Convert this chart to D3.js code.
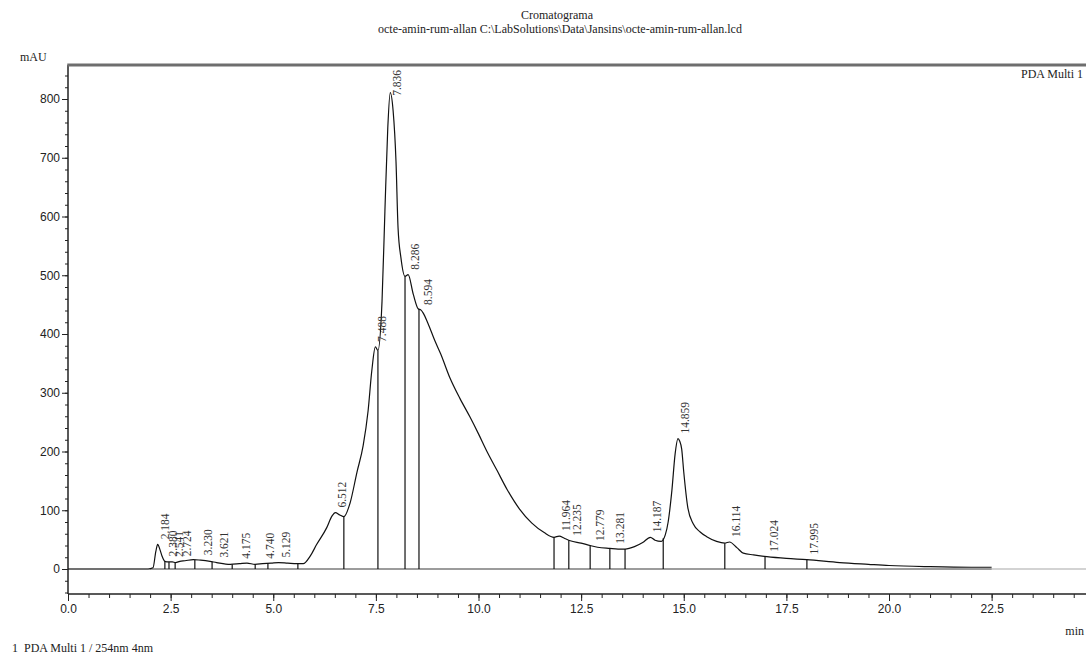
<!DOCTYPE html>
<html>
<head>
<meta charset="utf-8">
<script src="https://cdn.jsdelivr.net/npm/d3@7"></script>
<style>
  body { margin: 0; background: #fff; }
  svg { display: block; font-family: "Liberation Serif", "Times New Roman", serif; }
  .axis text { font-size: 12px; fill: #222; }
  .axis path, .axis line { stroke: #222; }
  .peakLabel { font-size: 11.5px; fill: #333; }
</style>
</head>
<body>
<div id="chart"></div>
<script>
// retention time (min) and absorbance (mAU)
var times = [0, 1.5, 1.95, 2.07, 2.14, 2.184, 2.24, 2.29, 2.36, 2.45, 2.541, 2.62, 2.724, 2.85,
  3.05, 3.23, 3.46, 3.621, 3.95, 4.175, 4.36, 4.56, 4.74, 4.95, 5.129, 5.35, 5.57, 5.73, 5.9,
  6.06, 6.3, 6.43, 6.512, 6.62, 6.72, 6.87, 7.04, 7.19, 7.31, 7.4, 7.488, 7.55, 7.65, 7.72,
  7.79, 7.85, 7.92, 7.99, 8.04, 8.11, 8.21, 8.286, 8.41, 8.53, 8.594, 8.65, 8.77, 8.94, 9.08,
  9.3, 9.55, 9.79, 10.0, 10.2, 10.45, 10.7, 11.0, 11.3, 11.6, 11.84, 11.964, 12.1, 12.235,
  12.5, 12.72, 12.9, 13.2, 13.4, 13.57, 13.8, 14.0, 14.187, 14.3, 14.45, 14.55, 14.62, 14.71,
  14.79, 14.859, 14.9, 14.95, 15.0, 15.1, 15.23, 15.4, 15.56, 15.8, 16.0, 16.114, 16.3, 16.45,
  16.7, 17.024, 17.5, 17.995, 18.8, 19.5, 20.0, 21.0, 22.0, 22.5];
var mAU = [0, 0, 0, 2, 30, 42, 33, 22, 13, 12, 12, 11, 13, 14,
  16, 15, 13, 11, 8, 9, 10, 8, 9, 10, 11, 10, 9, 9, 22,
  42, 70, 90, 96, 92, 89, 112, 165, 210, 269, 337, 378, 372, 456, 609,
  751, 811, 780, 694, 581, 530, 498, 501, 468, 443, 441, 436, 418, 388, 366,
  326, 290, 259, 230, 201, 168, 135, 102, 78, 62, 54, 56, 52, 48,
  44, 40, 37, 35, 34, 34, 38, 45, 54, 49, 47, 58, 80, 133,
  196, 222, 218, 204, 165, 104, 77, 63, 55, 47, 44, 46, 36, 27,
  24, 21, 18, 16, 11, 8, 6, 4, 3, 3];

// peak separation (drop) lines
var dropTimes = [2.36, 2.46, 2.61, 3.09, 3.51, 4.0, 4.56, 4.87, 5.6, 6.72, 7.55, 8.21, 8.55,
  11.84, 12.2, 12.72, 13.2, 13.57, 14.5, 16.0, 16.98, 18.0];

// retention time labels
var peakLabels = ["2.184", "2.380", "2.541", "2.724", "3.230", "3.621", "4.175", "4.740", "5.129",
  "6.512", "7.488", "7.836", "8.286", "8.594", "11.964", "12.235", "12.779", "13.281", "14.187",
  "14.859", "16.114", "17.024", "17.995"];

var yMajor = [0, 100, 200, 300, 400, 500, 600, 700, 800];
var xMajor = [0, 2.5, 5, 7.5, 10, 12.5, 15, 17.5, 20, 22.5];

var width = 1086, height = 655;
var plotLeft = 68, plotTop = 65, plotBottom = 594;

var svg = d3.select("#chart").append("svg").attr("width", width).attr("height", height);

var x = d3.scaleLinear().domain([0, 25]).range([plotLeft, plotLeft + 41.05 * 25]);
var y = d3.scaleLinear().domain([0, 800]).range([569, 99]);

var pts = times.map(function (t, i) { return [t, mAU[i]]; });

function valueAt(t) {
  var i = d3.bisector(function (d) { return d[0]; }).left(pts, t);
  if (i <= 0) return pts[0][1];
  if (i >= pts.length) return pts[pts.length - 1][1];
  var a = pts[i - 1], b = pts[i];
  return a[1] + (b[1] - a[1]) * (t - a[0]) / (b[0] - a[0]);
}

// titles
svg.append("text").attr("x", 557).attr("y", 19).attr("text-anchor", "middle")
  .style("font-size", "12px").attr("fill", "#222").text("Cromatograma");
svg.append("text").attr("x", 560).attr("y", 33).attr("text-anchor", "middle")
  .style("font-size", "12px").attr("fill", "#222")
  .text("octe-amin-rum-allan C:\\LabSolutions\\Data\\Jansins\\octe-amin-rum-allan.lcd");
svg.append("text").attr("x", 20).attr("y", 61).style("font-size", "12px").attr("fill", "#222").text("mAU");

// zero line
svg.append("line").attr("x1", plotLeft).attr("x2", x(25)).attr("y1", y(0)).attr("y2", y(0))
  .attr("stroke", "#c4c4c4").attr("stroke-width", 1.6);
// integration baseline
svg.append("line").attr("x1", x(2.0)).attr("x2", x(22.5)).attr("y1", y(0)).attr("y2", y(0))
  .attr("stroke", "#8a8a8a").attr("stroke-width", 1.3);

// axes
var yAxisMinor = d3.axisLeft(y).tickValues(d3.range(-40, 860, 20)).tickSize(3).tickFormat("").tickSizeOuter(0);
svg.append("g").attr("class", "axis").attr("transform", "translate(" + plotLeft + ",0)").call(yAxisMinor)
  .select(".domain").remove();
var yAxis = d3.axisLeft(y).tickValues(yMajor).tickSize(6).tickPadding(2).tickSizeOuter(0).tickFormat(d3.format("d"));
svg.append("g").attr("class", "axis").attr("transform", "translate(" + plotLeft + ",0)").call(yAxis)
  .select(".domain").remove();

var xAxisMinor = d3.axisBottom(x).tickValues(d3.range(0, 25.01, 0.5)).tickSize(4).tickFormat("").tickSizeOuter(0);
svg.append("g").attr("class", "axis").attr("transform", "translate(0," + plotBottom + ")").call(xAxisMinor)
  .select(".domain").remove();
var xAxis = d3.axisBottom(x).tickValues(xMajor).tickSize(7).tickPadding(3).tickSizeOuter(0).tickFormat(d3.format(".1f"));
svg.append("g").attr("class", "axis").attr("transform", "translate(0," + plotBottom + ")").call(xAxis)
  .select(".domain").remove();

// frame
svg.append("line").attr("x1", plotLeft).attr("x2", plotLeft).attr("y1", plotTop).attr("y2", plotBottom)
  .attr("stroke", "#222").attr("stroke-width", 1.5);
svg.append("line").attr("x1", plotLeft).attr("x2", x(25)).attr("y1", plotBottom).attr("y2", plotBottom)
  .attr("stroke", "#222").attr("stroke-width", 1.5);
svg.append("line").attr("x1", plotLeft - 0.75).attr("x2", x(25)).attr("y1", plotTop).attr("y2", plotTop)
  .attr("stroke", "#6e6e6e").attr("stroke-width", 2.8);

// drop lines
svg.selectAll(".drop").data(dropTimes).enter().append("line")
  .attr("class", "drop")
  .attr("x1", function (d) { return x(d); }).attr("x2", function (d) { return x(d); })
  .attr("y1", y(0)).attr("y2", function (d) { return y(valueAt(d)); })
  .attr("stroke", "#111").attr("stroke-width", 1.2);

// chromatogram
var line = d3.line().x(function (d) { return x(d[0]); }).y(function (d) { return y(d[1]); })
  .curve(d3.curveMonotoneX);
svg.append("path").datum(pts).attr("d", line).attr("fill", "none")
  .attr("stroke", "#111").attr("stroke-width", 1.2);

// retention time labels, rotated, just above the trace
svg.selectAll(".peakLabel").data(peakLabels).enter().append("text")
  .attr("class", "peakLabel")
  .text(function (d) { return d; })
  .each(function (d) {
    var t = +d;
    var len = this.getComputedTextLength();
    var py = y(valueAt(t)) - 5;
    if (py - len < plotTop + 3) py = plotTop + 3 + len;
    var px = x(t) + 11;
    d3.select(this).attr("transform", "translate(" + px + "," + py + ") rotate(-90)");
  });

svg.append("text").attr("x", 1083).attr("y", 78).attr("text-anchor", "end")
  .style("font-size", "12px").attr("fill", "#222").text("PDA Multi 1");
svg.append("text").attr("x", 1084).attr("y", 635).attr("text-anchor", "end")
  .style("font-size", "12px").attr("fill", "#222").text("min");
svg.append("text").attr("x", 12).attr("y", 652).style("font-size", "12px").attr("fill", "#222")
  .attr("xml:space", "preserve").text("1  PDA Multi 1 / 254nm 4nm");
</script>
</body>
</html>
